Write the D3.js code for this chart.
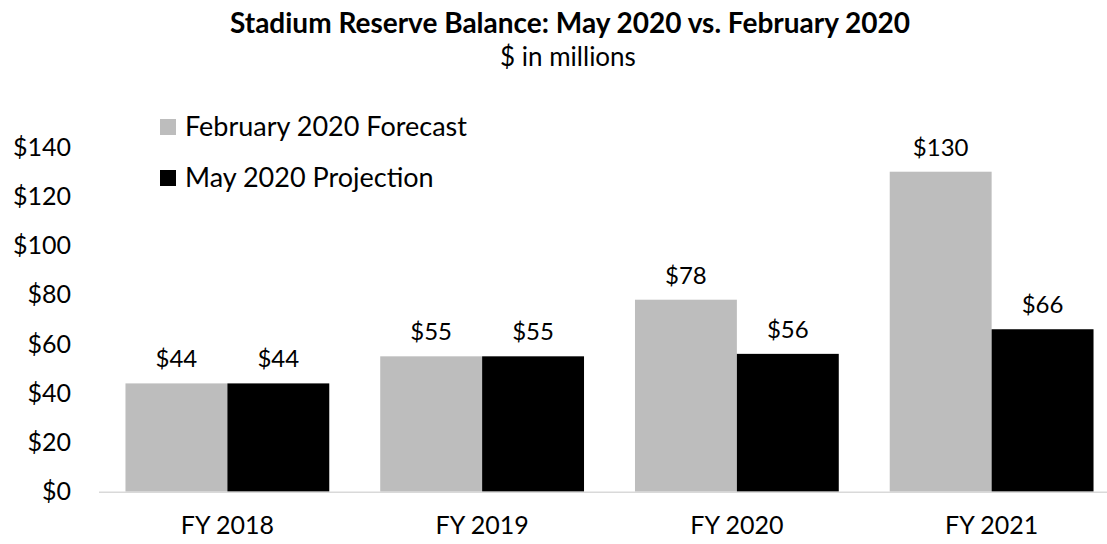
<!DOCTYPE html>
<html lang="en">
<head>
  <meta charset="UTF-8">
  <title>Stadium Reserve Balance</title>
  <script src="https://cdn.jsdelivr.net/npm/d3@7"></script>
  <style>
  body { margin: 0; background: #fff; }
  text { font-family: 'Lato', sans-serif; fill: #000; }
  .titulo { font-weight: 700; font-size: 28px; }
  .subtitulo { font-size: 26px; }
  .eje text { font-size: 25px; }
  .eje path, .eje line { display: none; }
  .cifras { font-size: 24px; }
  .leyenda { font-size: 27px; }
  </style>
</head>
<body>
  <div id="grafico"></div>
  <script>
    var categorias = ["FY 2018", "FY 2019", "FY 2020", "FY 2021"];
    var febrero = [44, 55, 78, 130];
    var mayo = [44, 55, 56, 66];
    var series = ["February 2020 Forecast", "May 2020 Projection"];
    var ticksY = [0, 20, 40, 60, 80, 100, 120, 140];
    var colores = ["#bdbdbd", "#000000"];

    var w = 1107, h = 544;
    var svg = d3.select("#grafico").append("svg")
      .attr("width", w).attr("height", h);

    var x = d3.scaleBand().domain(categorias)
      .range([100, 1119]).paddingInner(0.2).paddingOuter(0.1);
    var x1 = d3.scaleBand().domain(series).range([0, x.bandwidth()]);
    var y = d3.scaleLinear().domain([0, 140]).range([491.7, 147.1]);

    // titulo
    svg.append("text").attr("class", "titulo")
      .attr("x", 570).attr("y", 33).attr("text-anchor", "middle")
      .text("Stadium Reserve Balance: May 2020 vs. February 2020");
    svg.append("text").attr("class", "subtitulo")
      .attr("x", 568).attr("y", 66).attr("text-anchor", "middle")
      .text("$ in millions");

    // barras
    var datos = [febrero, mayo];
    var grupos = svg.selectAll(".serie")
      .data(datos).enter().append("g")
      .attr("fill", function(d, i){ return colores[i]; });

    grupos.selectAll("rect")
      .data(function(d, i){ return d.map(function(v, j){ return {v: v, c: categorias[j], s: series[i]}; }); })
      .enter().append("rect")
      .attr("x", function(d){ return x(d.c) + x1(d.s); })
      .attr("y", function(d){ return y(d.v); })
      .attr("width", x1.bandwidth())
      .attr("height", function(d){ return y(0) - y(d.v); });

    grupos.selectAll(".cifras")
      .data(function(d, i){ return d.map(function(v, j){ return {v: v, c: categorias[j], s: series[i]}; }); })
      .enter().append("text")
      .attr("class", "cifras")
      .attr("text-anchor", "middle")
      .attr("x", function(d){ return x(d.c) + x1(d.s) + x1.bandwidth() / 2; })
      .attr("y", function(d){ return y(d.v) - 16; })
      .text(function(d){ return "$" + d.v; });

    // linea base
    svg.append("line")
      .attr("x1", 99).attr("x2", 1119)
      .attr("y1", y(0) + 0.5).attr("y2", y(0) + 0.5)
      .attr("stroke", "#d9d9d9").attr("stroke-width", 1.5);

    // ejes
    svg.append("g").attr("class", "eje")
      .attr("transform", "translate(71,0)")
      .call(d3.axisLeft(y).tickValues(ticksY).tickSize(0).tickPadding(0)
        .tickFormat(function(d){ return "$" + d; }));

    svg.append("g").attr("class", "eje")
      .attr("transform", "translate(0," + y(0) + ")")
      .call(d3.axisBottom(x).tickSize(0).tickPadding(25));

    // leyenda
    var leyenda = svg.selectAll(".leyenda")
      .data(series).enter().append("g")
      .attr("transform", function(d, i){ return "translate(160," + (127 + i * 51) + ")"; });
    leyenda.append("rect")
      .attr("y", -8).attr("width", 16).attr("height", 16)
      .attr("fill", function(d, i){ return colores[i]; });
    leyenda.append("text").attr("class", "leyenda")
      .attr("x", 25).attr("dy", "0.35em")
      .text(function(d){ return d; });
  </script>
</body>
</html>
